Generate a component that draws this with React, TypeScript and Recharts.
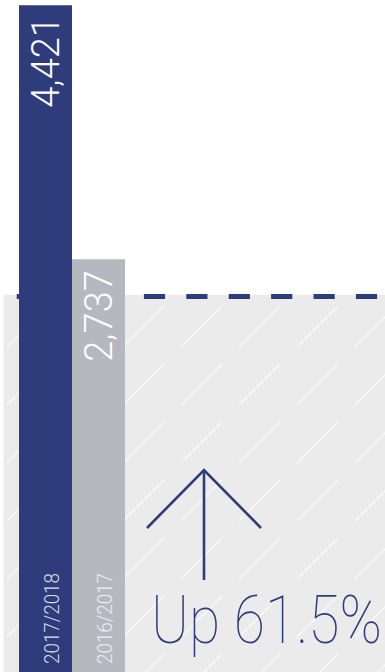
import React from 'react';
import { BarChart, Bar, XAxis, YAxis, ReferenceArea, LabelList, Cell } from 'recharts';

// ---- data ----
const seasons = ['2017/2018', '2016/2017'];
const totals = [4421, 2737];
const benchmarkValue = [2500];
const yDomainMax = 4455;

// ---- styles ----
const NAVY = '#2e3c7b';
const barColors = [NAVY, '#b5b8bf'];
const seasonLabelColors = ['#d8dbea', '#eceef1'];
const FONT = 'Roboto, "DejaVu Sans", sans-serif';

const data = seasons.map((season, i) => ({ season, total: totals[i] }));

const change = ((totals[0] - totals[1]) / totals[1]) * 100;
const changeText = `Up ${change.toFixed(1)}%`;

const geom = (props: any) => {
  const vb = props.viewBox || {};
  const x = Number(props.x ?? vb.x);
  const y = Number(props.y ?? vb.y);
  const width = Number(props.width ?? vb.width);
  const height = Number(props.height ?? vb.height);
  return { x, y, width, height };
};

const BenchmarkShape = (props: any) => {
  const { x, y, width, height } = geom(props);
  return (
    <g>
      <rect x={x} y={y} width={width} height={height} fill="#ebebeb" />
      <rect x={x} y={y} width={width} height={height} fill="url(#hatch)" />
      <line
        x1={x}
        y1={y + 1.5}
        x2={x + width}
        y2={y + 1.5}
        stroke={NAVY}
        strokeWidth={5}
        strokeDasharray="21.2 21.2"
        strokeDashoffset={29.2}
      />
    </g>
  );
};

const ValueLabel = (props: any) => {
  const { x, y, width } = geom(props);
  const bx = x + width - 13;
  const by = y + 11;
  return (
    <text
      x={bx}
      y={by}
      transform={`rotate(-90 ${bx} ${by})`}
      textAnchor="end"
      fill="#ffffff"
      fontFamily={FONT}
      fontWeight={300}
      fontSize={38}
    >
      {Number(props.value).toLocaleString('en-US')}
    </text>
  );
};

const SeasonLabel = (props: any) => {
  const { x, y, width, height } = geom(props);
  const bx = x + width - 13;
  const by = y + height - 8;
  const idx = Number(props.index ?? 0);
  return (
    <text
      x={bx}
      y={by}
      transform={`rotate(-90 ${bx} ${by})`}
      textAnchor="start"
      fill={seasonLabelColors[idx % seasonLabelColors.length]}
      fontFamily={FONT}
      fontWeight={300}
      fontSize={20}
      textLength={91}
      lengthAdjust="spacingAndGlyphs"
    >
      {props.value}
    </text>
  );
};

export default function App() {
  return (
    <div style={{ position: 'absolute', left: 0, top: 0, width: 385, height: 672, overflow: 'hidden' }}>
      <svg width={0} height={0} style={{ position: 'absolute' }}>
        <defs>
          <pattern id="hatch" patternUnits="userSpaceOnUse" x={7} y={15} width={58} height={58}>
            <line x1={0} y1={42} x2={41} y2={1} stroke="#fafafa" strokeWidth={1.4} />
          </pattern>
        </defs>
      </svg>
      <BarChart
        width={385}
        height={672}
        data={data}
        margin={{ top: 0, right: 0, bottom: 0, left: 3.5 }}
        barCategoryGap={0}
        barGap={0}
      >
        <XAxis xAxisId="bars" dataKey="season" type="category" hide padding={{ left: 15.5, right: 260 }} />
        <XAxis xAxisId="full" dataKey="season" type="category" hide />
        <YAxis
          width={0}
          domain={[0, yDomainMax]}
          type="number"
          allowDataOverflow
          axisLine={{ stroke: '#b3b3b3', strokeWidth: 1 }}
          tick={false}
          tickLine={false}
        />
        <ReferenceArea
          xAxisId="full"
          y1={0}
          y2={benchmarkValue[0]}
          fill="#ebebeb"
          fillOpacity={1}
          stroke="none"
          shape={BenchmarkShape}
        />
        <Bar xAxisId="bars" dataKey="total" isAnimationActive={false}>
          {data.map((d, i) => (
            <Cell key={d.season} fill={barColors[i]} />
          ))}
          <LabelList dataKey="total" content={ValueLabel} />
          <LabelList dataKey="season" content={SeasonLabel} />
        </Bar>
      </BarChart>
      <svg
        width={385}
        height={672}
        style={{ position: 'absolute', left: 0, top: 0, pointerEvents: 'none' }}
      >
        <g stroke={NAVY} strokeWidth={2.6} fill="none">
          <line x1={204} y1={580} x2={204} y2={470} />
          <polyline points="147,528 204,470 261,528" strokeLinejoin="miter" />
        </g>
        <text
          x={0}
          y={0}
          transform="translate(151 643) scale(0.84 1)"
          fill={NAVY}
          fontFamily={FONT}
          fontWeight={100}
          fontSize={67}
          textLength={275}
          lengthAdjust="spacingAndGlyphs"
        >
          {changeText}
        </text>
      </svg>
    </div>
  );
}
